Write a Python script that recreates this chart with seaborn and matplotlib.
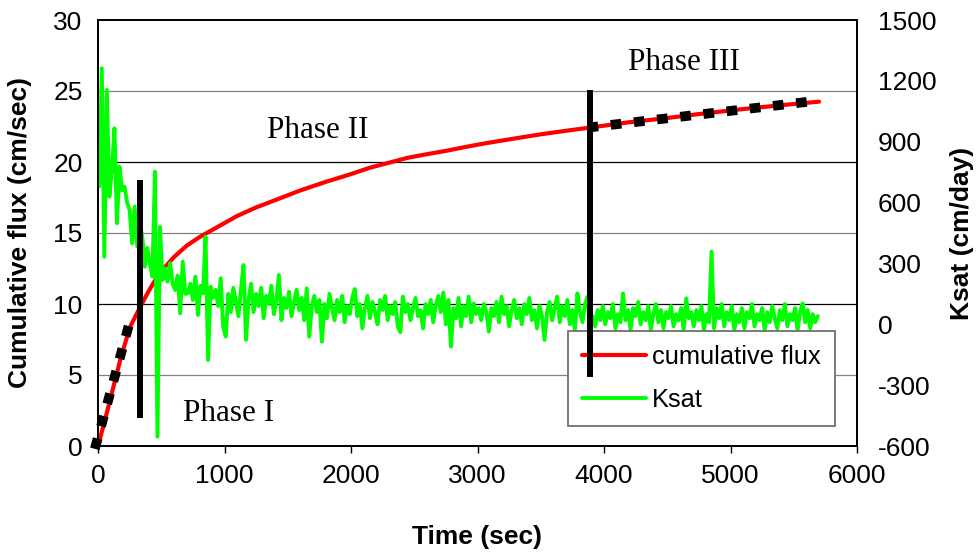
import numpy as np
import matplotlib
matplotlib.use("Agg")
import matplotlib.pyplot as plt
import seaborn as sns

# ---------------- data ----------------
flux_time = [10, 30, 60, 100, 140, 180, 220, 260, 300, 340, 400, 460, 520, 600,
             700, 800, 900, 1000, 1100, 1250, 1440, 1600, 1800, 2000, 2150, 2300,
             2450, 2600, 2760, 2900, 3050, 3290, 3500, 3700, 3870, 4200, 4500,
             4800, 5100, 5400, 5700]
flux_vals = [0.3, 1.0, 2.0, 3.4, 4.8, 6.2, 7.4, 8.5, 9.2, 9.9, 10.9, 11.8, 12.5, 13.3,
             14.1, 14.7, 15.2, 15.7, 16.2, 16.8, 17.45, 18.0, 18.6, 19.15, 19.6, 19.95,
             20.3, 20.55, 20.8, 21.05, 21.3, 21.65, 21.95, 22.2, 22.4, 22.8, 23.1,
             23.43, 23.73, 24.0, 24.25]

ksat_start = 10   # first sample time (sec)
ksat_step = 20    # sampling interval (sec)
ksat_vals = [
    680, 1262, 333, 1155, 629, 761, 966, 498, 777, 660,
    678, 600, 563, 399, 580, 383, 500, 432, 284, 376,
    300, 235, 752, -554, 480, 218, 276, 210, 301, 200,
    169, 240, 54, 309, 150, 153, 200, 120, 235, 46,
    190, 153, 432, -176, 185, 130, 170, 90, 227, -12,
    -60,
    150, 60, 180, 110, 40, 170, 292, -77, 120, 200,
    60, 150, 90, 180, 30, 140, 100, 190, 50, 120,
    243, 20, 130, 80, 160, 40, 110, 170, 70, 130,
    20, 177, -61, 90, 140, 60, 120, -86, 100,
    30, 150, 80, 20, 120, 60, 140, 10, 90, 50,
    130, 174, 40, 100, -20, 80, 140, 30, 110, 60,
    0, 120, 70, 140, 20, 90, 50, 110, -10, -39,
    136, 60, 100, 20, 80, 130, 40, 70, -20, 100,
    50, 120, 10, 90, 140, 60, 156, 0, 120, -110,
    80, 30, 130, -10, 90, 40, 136, 10, 103, 50,
    80,
    20, 100, 60, -36, 80, 40, 110, 10, 136, 50,
    90, -10, 70, 120, 30, 80, 0, 100, 50, 130,
    20, 70, -20, 90, 40, -77, 60, 110, 20, 80,
    136, 10, 90, 40, 120, 0, 70, -30, 152, 60,
    10, 100, 136, -20,
    40, -10, 70, 20, 90, 0, 60, 30, 100, -20,
    50, 10, 152, 20, 70, -30, 80, 40, 110, 0,
    60, 20, 90, -30, 50, 100, 10, 70, -20, 60,
    30, 90, -10, 50, 20, 80, -30, 128, 30, 60,
    -10, 70, 20, 90, -30, 50, 10, 358, -20, 80,
    30, 100, -10, 60, 20, 90, -30, 50, 10, 80,
    -20, 60, 30, 100, -10, 50, 20, 80, -30, 60,
    10, 90, 30, -20, 70, 20, 100, -10, 50, 20,
    80, -30, 60, 103, 10, 70, -20, 50, 10, 40,
]
ksat_time = ksat_start + ksat_step * np.arange(len(ksat_vals))

phase1_fit_time = [-25, 262]
phase1_fit_vals = [-0.2, 9.1]
phase3_fit_time = [3870, 5640]
phase3_fit_vals = [22.42, 24.27]

boundary1_time = [330, 330]
boundary1_vals = [2.0, 18.7]
boundary2_time = [3890, 3890]
boundary2_vals = [4.85, 25.05]

phase_labels = ["Phase I", "Phase II", "Phase III"]
phase_label_time = [1030, 1740, 4630]
phase_label_vals = [2.3, 22.25, 27.0]

left_ticks = [0, 5, 10, 15, 20, 25, 30]
right_ticks = [-600, -300, 0, 300, 600, 900, 1200, 1500]
x_ticks = [0, 1000, 2000, 3000, 4000, 5000, 6000]

# ---------------- style ----------------
sns.set_style("white")
plt.rcParams['font.family'] = ['Liberation Sans', 'DejaVu Sans']
plt.rcParams['axes.unicode_minus'] = False
plt.rcParams['text.color'] = 'black'
plt.rcParams['axes.labelcolor'] = 'black'
plt.rcParams['xtick.color'] = 'black'
plt.rcParams['ytick.color'] = 'black'

fig = plt.figure(figsize=(9.8, 5.54), dpi=100)
ax = fig.add_axes([98 / 980, 1 - 446 / 554, (857 - 98) / 980, (446 - 20) / 554])
ax2 = ax.twinx()

ax.set_xlim(0, 6000)
ax.set_ylim(0, 30)
ax2.set_ylim(-600, 1500)

# gridlines
for v in left_ticks[1:-1]:
    ax.axhline(v, color='black' if v % 10 == 0 else '#808080', lw=0.9, zorder=0.5)

sns.lineplot(x=flux_time, y=flux_vals, ax=ax, color='#ff0000', lw=3.0,
             estimator=None, sort=False, legend=False)
sns.lineplot(x=ksat_time, y=ksat_vals, ax=ax2, color='#00ff00', lw=2.8,
             estimator=None, sort=False, legend=False)
red_line = ax.lines[-1]
green_line = ax2.lines[-1]

# fits and phase boundaries (drawn above the Ksat trace, in flux units)
ax2.plot(phase1_fit_time, phase1_fit_vals, transform=ax.transData, color='black',
         lw=7, linestyle=(0, (1.1, 1.3)), dash_capstyle='butt', clip_on=False, zorder=6)
ax2.plot(phase3_fit_time, phase3_fit_vals, transform=ax.transData, color='black',
         lw=7, linestyle=(0, (1.1, 1.3)), dash_capstyle='butt', zorder=6)
ax2.plot(boundary1_time, boundary1_vals, transform=ax.transData, color='black',
         lw=4.3, solid_capstyle='butt', zorder=6)
ax2.plot(boundary2_time, boundary2_vals, transform=ax.transData, color='black',
         lw=4.3, solid_capstyle='butt', zorder=6)

for lab, tx, ty in zip(phase_labels, phase_label_time, phase_label_vals):
    ax.text(tx, ty, lab, ha='center', va='center', fontsize=22.5, color='black',
            family=['Liberation Serif', 'DejaVu Serif'])

# ticks
ax.set_xticks(x_ticks)
ax.set_yticks(left_ticks)
ax2.set_yticks(right_ticks)
ax.tick_params(axis='x', direction='out', length=5, width=1, pad=8, labelsize=19,
               bottom=True, colors='black')
ax.tick_params(axis='y', length=0, pad=11, labelsize=19, colors='black')
ax2.tick_params(axis='y', length=0, pad=15, labelsize=19, colors='black')

for a in (ax, ax2):
    for s in a.spines.values():
        s.set_color('black')
        s.set_linewidth(1.3)

ax.set_xlabel("Time (sec)", fontsize=19, fontweight='bold', color='black')
ax.set_ylabel("Cumulative flux (cm/sec)", fontsize=19, fontweight='bold', color='black')
ax2.set_ylabel("Ksat (cm/day)", fontsize=19, fontweight='bold', color='black')
ax.xaxis.set_label_coords(0.5, -0.185)
ax.yaxis.set_label_coords(-0.087, 0.5)
ax2.yaxis.set_label_coords(1.123, 0.5)

leg = ax2.legend([red_line, green_line], ["cumulative flux", "Ksat"],
                 loc='lower right', bbox_to_anchor=(0.971, 0.047), borderaxespad=0,
                 fontsize=18.3, handlelength=2.5, handletextpad=0.25, labelspacing=0.75,
                 borderpad=0.55, fancybox=False, framealpha=1, edgecolor='#707070')
leg.get_frame().set_linewidth(1.3)
for t in leg.get_texts():
    t.set_color('black')
leg.set_zorder(5)

fig.savefig("out.png", dpi=100, facecolor='white')
